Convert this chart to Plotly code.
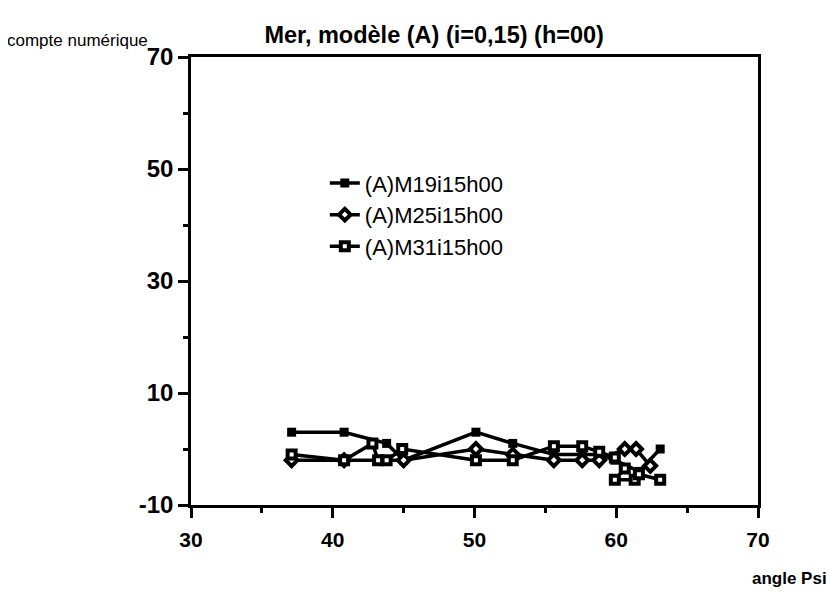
import plotly.graph_objects as go

# ---- data ----
m19_x = [37.1, 40.8, 43.8, 45.0, 50.1, 52.7, 55.6, 57.6, 58.8, 59.9, 61.6, 63.1]
m19_y = [3, 3, 1, -2, 3, 1, -1, -1, -1, -2, -4, 0]

m25_x = [37.1, 40.8, 45.0, 50.1, 52.7, 55.6, 57.6, 58.8, 60.6, 61.4, 62.4]
m25_y = [-2, -2, -2, 0, -1, -2, -2, -2, 0, 0, -3]

m31_x = [37.1, 40.8, 42.8, 43.2, 43.8, 44.9, 50.1, 52.7, 55.6, 57.6, 58.8, 59.9, 60.6, 59.9, 61.3, 61.6, 63.1]
m31_y = [-1, -2, 1, -2, -2, 0, -2, -2, 0.5, 0.5, -0.5, -1.5, -3.5, -5.5, -5.5, -4.5, -5.5]

names = ["(A)M19i15h00", "(A)M25i15h00", "(A)M31i15h00"]

x_ticks = [30, 40, 50, 60, 70]
x_minor = [35, 45, 55, 65]
y_ticks = [-10, 10, 30, 50, 70]
y_minor = [0, 20, 40, 60]

title = "Mer, modèle (A) (i=0,15) (h=00)"
y_label = "compte numérique"
x_label = "angle Psi"

fig = go.Figure()
fig.add_trace(go.Scatter(x=m19_x, y=m19_y, name=names[0], mode="lines+markers",
                         line=dict(color="black", width=3.5),
                         marker=dict(symbol="square", size=9, color="black")))
fig.add_trace(go.Scatter(x=m25_x, y=m25_y, name=names[1], mode="lines+markers",
                         line=dict(color="black", width=3.5),
                         marker=dict(symbol="diamond", size=9, color="white",
                                     line=dict(color="black", width=4))))
fig.add_trace(go.Scatter(x=m31_x, y=m31_y, name=names[2], mode="lines+markers",
                         line=dict(color="black", width=3.5),
                         marker=dict(symbol="square", size=8, color="white",
                                     line=dict(color="black", width=4))))

fig.update_layout(
    width=834, height=595,
    margin=dict(l=183, r=84, t=49, b=98),
    paper_bgcolor="white", plot_bgcolor="white",
    font=dict(family="Liberation Sans, Arial, sans-serif", color="black", size=16),
    showlegend=True,
    legend=dict(x=0.236, y=0.765, xanchor="left", yanchor="top",
                bgcolor="rgba(0,0,0,0)", font=dict(size=22), tracegroupgap=0,
                itemwidth=30),
    title=dict(text="<b>" + title + "</b>", x=0.511, xanchor="center", y=0.955,
               yanchor="middle", font=dict(size=23.5)),
    annotations=[
        dict(text=y_label, x=-0.328, y=1.036, xref="paper", yref="paper",
             xanchor="left", yanchor="middle", showarrow=False, font=dict(size=17)),
        dict(text="<b>" + x_label + "</b>", x=1.125, y=-0.163, xref="paper", yref="paper",
             xanchor="right", yanchor="middle", showarrow=False, font=dict(size=17)),
    ],
)

fig.update_xaxes(range=[30, 70], tickvals=x_ticks,
                 ticktext=["<b>%d</b>" % v for v in x_ticks],
                 ticks="outside", ticklen=10, tickwidth=2.5, tickcolor="black",
                 minor=dict(tickvals=x_minor, ticks="outside", ticklen=5, tickwidth=2.5, tickcolor="black"),
                 showline=True, linewidth=2.5, linecolor="black", mirror=True,
                 showgrid=False, zeroline=False, tickfont=dict(size=21),
                 ticklabelstandoff=4)
fig.update_yaxes(range=[-10, 70], tickvals=y_ticks,
                 ticktext=["<b>%d</b>" % v for v in y_ticks],
                 ticks="outside", ticklen=10, tickwidth=2.5, tickcolor="black",
                 minor=dict(tickvals=y_minor, ticks="outside", ticklen=5, tickwidth=2.5, tickcolor="black"),
                 showline=True, linewidth=2.5, linecolor="black", mirror=True,
                 showgrid=False, zeroline=False, tickfont=dict(size=24))

fig.write_html("out.html")
